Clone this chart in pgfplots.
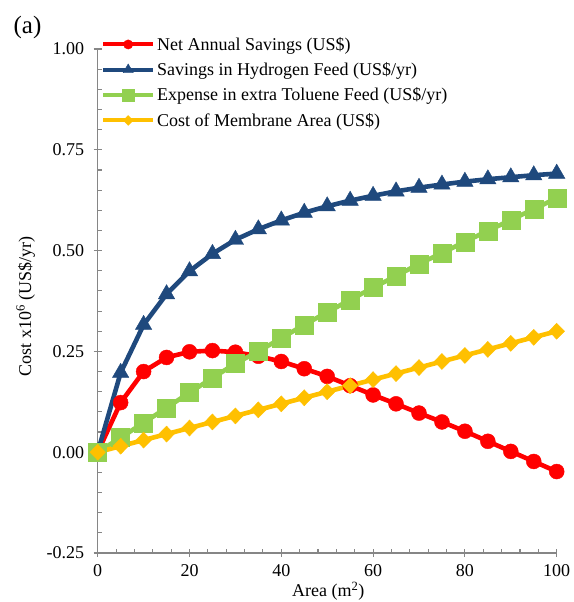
\documentclass[border=0pt]{standalone}
\usepackage{pgfplots}
\pgfplotsset{compat=1.18}
\usepackage{fontspec}
\setmainfont{Liberation Serif}
\definecolor{cred}{HTML}{FF0000}
\definecolor{cblue}{HTML}{1F497D}
\definecolor{cgreen}{HTML}{92D050}
\definecolor{cyellow}{HTML}{FFC000}
\definecolor{axgray}{HTML}{868686}

\pgfplotstableread{
x y
0 0
5 0.123
10 0.200
15 0.235
20 0.249
25 0.252
30 0.248
35 0.238
40 0.225
45 0.207
50 0.188
55 0.165
60 0.142
65 0.120
70 0.097
75 0.075
80 0.052
85 0.027
90 0.002
95 -0.023
100 -0.048
}\netsav
\pgfplotstableread{
x y
0 0
5 0.197
10 0.316
15 0.392
20 0.449
25 0.492
30 0.527
35 0.553
40 0.575
45 0.594
50 0.610
55 0.624
60 0.636
65 0.647
70 0.656
75 0.664
80 0.671
85 0.677
90 0.682
95 0.687
100 0.691
}\hydro
\pgfplotstableread{
x y
0 0
5 0.036
10 0.073
15 0.110
20 0.148
25 0.184
30 0.220
35 0.250
40 0.283
45 0.316
50 0.347
55 0.378
60 0.408
65 0.437
70 0.467
75 0.494
80 0.522
85 0.549
90 0.576
95 0.603
100 0.630
}\toluene
\pgfplotstableread{
x y
0 0
5 0.015
10 0.030
15 0.045
20 0.060
25 0.075
30 0.090
35 0.105
40 0.120
45 0.135
50 0.150
55 0.165
60 0.180
65 0.195
70 0.210
75 0.225
80 0.240
85 0.255
90 0.270
95 0.285
100 0.300
}\membrane

\begin{document}
\begin{tikzpicture}
\useasboundingbox (-97.7pt,-49pt) rectangle (475.3pt,553pt);
\begin{axis}[
  scale only axis, width=459pt, height=504pt,
  xmin=0, xmax=100, ymin=-0.25, ymax=1,
  clip=false,
  axis x line=bottom, axis y line=left,
  axis line style={-, draw=axgray, line width=1.3pt},
  xtick={0,20,...,100}, ytick={-0.25,0,0.25,0.5,0.75,1},
  minor x tick num=4, minor y tick num=4,
  tick align=inside, major tick length=8pt, minor tick length=4pt,
  every tick/.style={axgray, line width=1.1pt},
  every major x tick/.append style={yshift=-4pt},
  every major y tick/.append style={xshift=-4pt},
  /pgf/number format/assume math mode=true,
  tick label style={font=\fontsize{18}{21}\selectfont},
  yticklabel style={/pgf/number format/.cd, fixed, fixed zerofill, precision=2, /tikz/.cd, xshift=-10pt},
  xticklabel style={yshift=-8pt},
  label style={font=\fontsize{18}{21}\selectfont},
  xlabel={Area (m\textsuperscript{2})},
  ylabel={Cost x10\textsuperscript{6} (US\$/yr)},
  xlabel style={at={(axis description cs:0.5024,-0.0873)}, anchor=base},
  ylabel style={at={(axis description cs:-0.1453,0.4897)}, anchor=base},
  legend cell align=left,
  legend style={at={(rel axis cs:0,1)}, anchor=north west, xshift=3.3pt, yshift=14pt,
    draw=none, fill=none, inner sep=0pt, row sep=6.8pt,
    nodes={inner sep=2pt},
    font=\fontsize{18}{21}\selectfont},
  legend image code/.code={
    \draw[#1, mark=none, line width=4pt] (0pt,0pt) -- (50pt,0pt);
    \draw[#1, every mark/.append style={scale=0.62}] plot coordinates {(25pt,0pt)};
  },
]
\addplot[cred, line width=4.6pt, mark=*, mark size=7.5pt, mark options={solid, line width=0.4pt, fill=cred}] table[x=x,y=y] {\netsav};
\addlegendentry{Net Annual Savings (US\$)}
\addplot[cblue, line width=4.6pt, mark=triangle*, mark size=9.5pt, mark options={solid, line width=0.4pt, fill=cblue}] table[x=x,y=y] {\hydro};
\addlegendentry{Savings in Hydrogen Feed (US\$/yr)}
\addplot[cgreen, line width=4.6pt, mark=square*, mark size=9pt, mark options={solid, line width=0.4pt, fill=cgreen}] table[x=x,y=y] {\toluene};
\addlegendentry{Expense in extra Toluene Feed (US\$/yr)}
\addplot[cyellow, line width=4.6pt, mark=diamond*, mark size=8pt, mark options={solid, line width=0.4pt, fill=cyellow, xscale=1.3}] table[x=x,y=y] {\membrane};
\addlegendentry{Cost of Membrane Area (US\$)}
\end{axis}
\node[anchor=base, font=\fontsize{25}{28}\selectfont] at (-70.2pt,519.7pt) {(a)};
\end{tikzpicture}
\end{document}
